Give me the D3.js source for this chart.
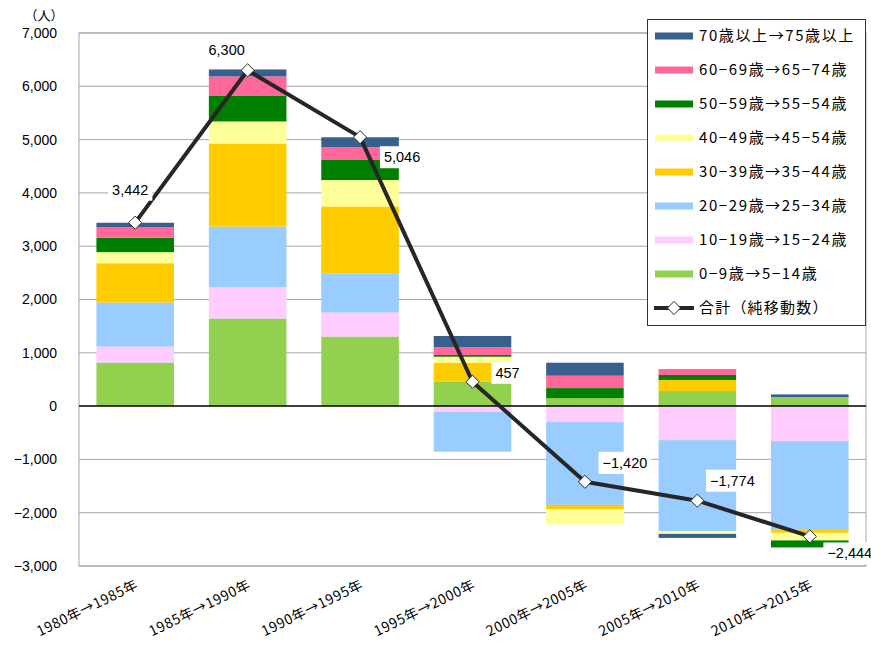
<!DOCTYPE html>
<html>
<head>
<meta charset="utf-8">
<script src="https://cdn.jsdelivr.net/npm/d3@7"></script>
<style>
body { margin: 0; background: #fff; }
svg { display: block; }
</style>
</head>
<body>
<svg id="chart" width="871" height="646"></svg>
<script>
// ---- data ----
const categories = ["1980年→1985年", "1985年→1990年", "1990年→1995年", "1995年→2000年", "2000年→2005年", "2005年→2010年", "2010年→2015年"];
const seriesNames = ["0−9歳→5−14歳", "10−19歳→15−24歳", "20−29歳→25−34歳", "30−39歳→35−44歳", "40−49歳→45−54歳", "50−59歳→55−54歳", "60−69歳→65−74歳", "70歳以上→75歳以上"];
const age0_9   = [817, 1643, 1305, 456, 150, 282, 169];
const age10_19 = [300, 592, 451, -107, -300, -639, -657];
const age20_29 = [826, 1133, 727, -750, -1553, -1709, -1650];
const age30_39 = [738, 1559, 1264, 357, -81, 207, -70];
const age40_49 = [207, 413, 494, 113, -288, -50, -143];
const age50_59 = [270, 488, 376, 32, 188, 94, -130];
const age60_69 = [199, 357, 239, 150, 232, 113, -8];
const age70up  = [83, 131, 188, 207, 244, -75, 50];
const totals   = [3442, 6300, 5046, 457, -1420, -1774, -2444];
const totalName = "合計（純移動数）";
const yTicks = [-3000, -2000, -1000, 0, 1000, 2000, 3000, 4000, 5000, 6000, 7000];
const unitLabel = "（人）";

// ---- style / layout ----
const colors = ["#92D050", "#FFCCFF", "#99CCFF", "#FFCC00", "#FFFF99", "#008000", "#FF6699", "#37608F"];
const labelOffsets = [[-5, -33], [-21, -20], [42, 20], [35, -9], [40, -19], [35, -20], [40, 17]];

const seriesValues = [age0_9, age10_19, age20_29, age30_39, age40_49, age50_59, age60_69, age70up];
const table = categories.map((c, i) => {
  const row = { cat: c };
  seriesNames.forEach((s, k) => row[s] = seriesValues[k][i]);
  return row;
});

const svg = d3.select("#chart");
const pLeft = 79, pRight = 866, pTop = 33, pBottom = 566;

const x = d3.scaleBand().domain(categories).range([pLeft, pRight]).paddingInner(0.31).paddingOuter(0.155);
const y = d3.scaleLinear().domain([-3000, 7000]).range([pBottom, pTop]);

// gridlines
svg.append("g").selectAll("line").data(yTicks.filter(d => d !== 0)).join("line")
  .attr("x1", pLeft).attr("x2", pRight)
  .attr("y1", d => y(d)).attr("y2", d => y(d))
  .attr("stroke", "#A6A6A6").attr("stroke-width", 1);

// frame
svg.append("rect").attr("x", pLeft).attr("y", pTop).attr("width", pRight - pLeft).attr("height", pBottom - pTop)
  .attr("fill", "none").attr("stroke", "#A6A6A6").attr("stroke-width", 1);

// y axis labels
const yAxis = d3.axisLeft(y).tickValues(yTicks).tickFormat(d3.format(",")).tickSize(0).tickPadding(22);
const ya = svg.append("g").attr("transform", `translate(${pLeft},0)`).call(yAxis);
ya.select(".domain").remove();
ya.selectAll("text").attr("font-family", "Liberation Sans, Arial, sans-serif").attr("font-size", 14).attr("fill", "#000");

svg.append("text").attr("x", 44).attr("y", 20).attr("text-anchor", "middle")
  .attr("font-family", "Noto Sans CJK JP").attr("font-size", 13).text(unitLabel);

// stacked bars
const stack = d3.stack().keys(seriesNames).offset(d3.stackOffsetDiverging);
const stacked = stack(table);
svg.append("g").selectAll("g").data(stacked).join("g")
  .attr("fill", (d, i) => colors[i])
  .selectAll("rect").data(d => d).join("rect")
  .attr("x", d => x(d.data.cat))
  .attr("width", x.bandwidth())
  .attr("y", d => y(Math.max(d[0], d[1])))
  .attr("height", d => Math.abs(y(d[0]) - y(d[1])));

// zero line
svg.append("line").attr("x1", pLeft).attr("x2", pRight).attr("y1", y(0)).attr("y2", y(0))
  .attr("stroke", "#000").attr("stroke-width", 1.5);

// x axis labels
const xa = svg.append("g");
categories.forEach((c, i) => {
  const cx = x(c) + x.bandwidth() / 2 + 4;
  xa.append("text")
    .attr("transform", `translate(${cx},${pBottom + 22}) rotate(-26)`)
    .attr("text-anchor", "end")
    .attr("font-family", "Noto Sans CJK JP")
    .attr("font-size", 14)
    .attr("letter-spacing", 0.6)
    .text(c);
});

// total line
const px = (d, i) => x(categories[i]) + x.bandwidth() / 2;
const line = d3.line().x((d, i) => px(d, i)).y(d => y(d));
svg.append("path").datum(totals).attr("d", line)
  .attr("fill", "none").attr("stroke", "#262626").attr("stroke-width", 4).attr("stroke-linejoin", "round");

const diamond = d3.symbol().type(d3.symbolDiamond2).size(110);
svg.append("g").selectAll("path").data(totals).join("path")
  .attr("transform", (d, i) => `translate(${px(d, i)},${y(d)})`)
  .attr("d", diamond)
  .attr("fill", "#fff").attr("stroke", "#262626").attr("stroke-width", 1);

// data labels
const fmt = d3.format(",");
const lg = svg.append("g");
totals.forEach((d, i) => {
  const cx = px(d, i) + labelOffsets[i][0];
  const cy = y(d) + labelOffsets[i][1];
  const t = lg.append("text").attr("x", cx).attr("y", cy).attr("dy", "0.35em")
    .attr("text-anchor", "middle")
    .attr("font-family", "Liberation Sans, Arial, sans-serif").attr("font-size", 14.5)
    .text(fmt(d));
  const bb = t.node().getBBox();
  lg.insert("rect", "text").attr("x", bb.x - 4).attr("y", bb.y - 3).attr("width", bb.width + 8).attr("height", bb.height + 6)
    .attr("fill", "#fff");
});
lg.selectAll("text").raise();

// legend
const leg = svg.append("g");
leg.append("rect").attr("x", 647.5).attr("y", 19.5).attr("width", 218).attr("height", 306)
  .attr("fill", "#fff").attr("stroke", "#333").attr("stroke-width", 1);
const legendOrder = d3.range(seriesNames.length).reverse();
legendOrder.forEach((k, j) => {
  const ly = 36 + j * 34;
  leg.append("rect").attr("x", 655).attr("y", ly - 3.5).attr("width", 38).attr("height", 7).attr("fill", colors[k]);
  leg.append("text").attr("x", 699).attr("y", ly).attr("dy", "0.35em")
    .attr("font-family", "Noto Sans CJK JP").attr("font-size", 15).attr("letter-spacing", 1.6).text(seriesNames[k]);
});
{
  const ly = 36 + 8 * 34;
  leg.append("line").attr("x1", 654).attr("x2", 694).attr("y1", ly).attr("y2", ly)
    .attr("stroke", "#262626").attr("stroke-width", 4);
  leg.append("path").attr("transform", `translate(674,${ly})`).attr("d", diamond)
    .attr("fill", "#fff").attr("stroke", "#262626").attr("stroke-width", 1);
  leg.append("text").attr("x", 699).attr("y", ly).attr("dy", "0.35em")
    .attr("font-family", "Noto Sans CJK JP").attr("font-size", 15).attr("letter-spacing", 1.2).text(totalName);
}
</script>
</body>
</html>
